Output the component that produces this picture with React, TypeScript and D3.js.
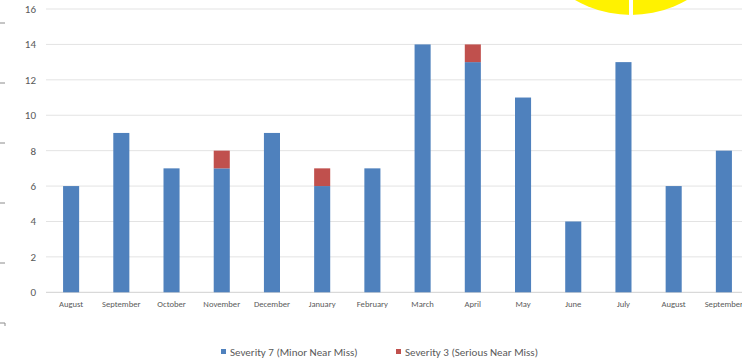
import React from "react";
import * as d3 from "d3";

const categories = ["August", "September", "October", "November", "December", "January", "February", "March", "April", "May", "June", "July", "August", "September"];
const severity7 = [6, 9, 7, 7, 9, 6, 7, 14, 13, 11, 4, 13, 6, 8];
const severity3 = [0, 0, 0, 1, 0, 1, 0, 0, 1, 0, 0, 0, 0, 0];
const yTicks = [0, 2, 4, 6, 8, 10, 12, 14, 16];
const seriesNames = ["Severity 7 (Minor Near Miss)", "Severity 3 (Serious Near Miss)"];
const colors = ["#4f81bd", "#c0504d"];
const edgeMarks = [23, 83, 143, 203, 263, 323];

export default function App() {
  const W = 742, H = 359;
  const left = 46, right = 749, top = 9, bottom = 292.3;
  const x = d3.scaleBand<number>().domain(categories.map((_, i) => i)).range([left, right]).paddingInner(0.68).paddingOuter(0.34);
  const y = d3.scaleLinear().domain([0, 16]).range([bottom, top]);
  const font = "Carlito, 'Liberation Sans', Arial, sans-serif";
  return (
    <svg width={W} height={H} style={{ position: "fixed", left: 0, top: 0 }} fontFamily={font}>
      <rect width={W} height={H} fill="#fff" />
      {yTicks.map(t => (
        <g key={t}>
          <line x1={left} x2={W} y1={y(t)} y2={y(t)} stroke={t === 0 ? "#d0d0d0" : "#e3e3e3"} strokeWidth={1} />
          <text x={36} y={y(t)} dy="0.35em" textAnchor="end" fontSize={11} fill="#595959">{t}</text>
        </g>
      ))}
      {categories.map((c, i) => {
        const bx = x(i)!;
        const w = x.bandwidth();
        return (
          <g key={i}>
            <rect x={bx} width={w} y={y(severity7[i])} height={y(0) - y(severity7[i])} fill={colors[0]} />
            {severity3[i] > 0 && (
              <rect x={bx} width={w} y={y(severity7[i] + severity3[i])} height={y(severity7[i]) - y(severity7[i] + severity3[i])} fill={colors[1]} />
            )}
            <text x={bx + w / 2} y={307} textAnchor="middle" fontSize={8.6} fill="#595959">{c}</text>
          </g>
        );
      })}
      <circle cx={631} cy={-97} r={112} fill="#fff200" />
      <rect x={629} y={0} width={4} height={20} fill="#fff" />
      {edgeMarks.map((m, i) => (
        <line key={i} x1={0} x2={5} y1={m} y2={m} stroke="#8c8c8c" strokeWidth={1} />
      ))}
      <line x1={5} x2={5} y1={323} y2={326} stroke="#8c8c8c" strokeWidth={1} />
      <g>
        <rect x={221} y={349} width={5} height={5} fill={colors[0]} />
        <text x={230} y={356} fontSize={11} fill="#595959">{seriesNames[0]}</text>
        <rect x={396} y={349} width={5} height={5} fill={colors[1]} />
        <text x={405} y={356} fontSize={11} fill="#595959">{seriesNames[1]}</text>
      </g>
    </svg>
  );
}
